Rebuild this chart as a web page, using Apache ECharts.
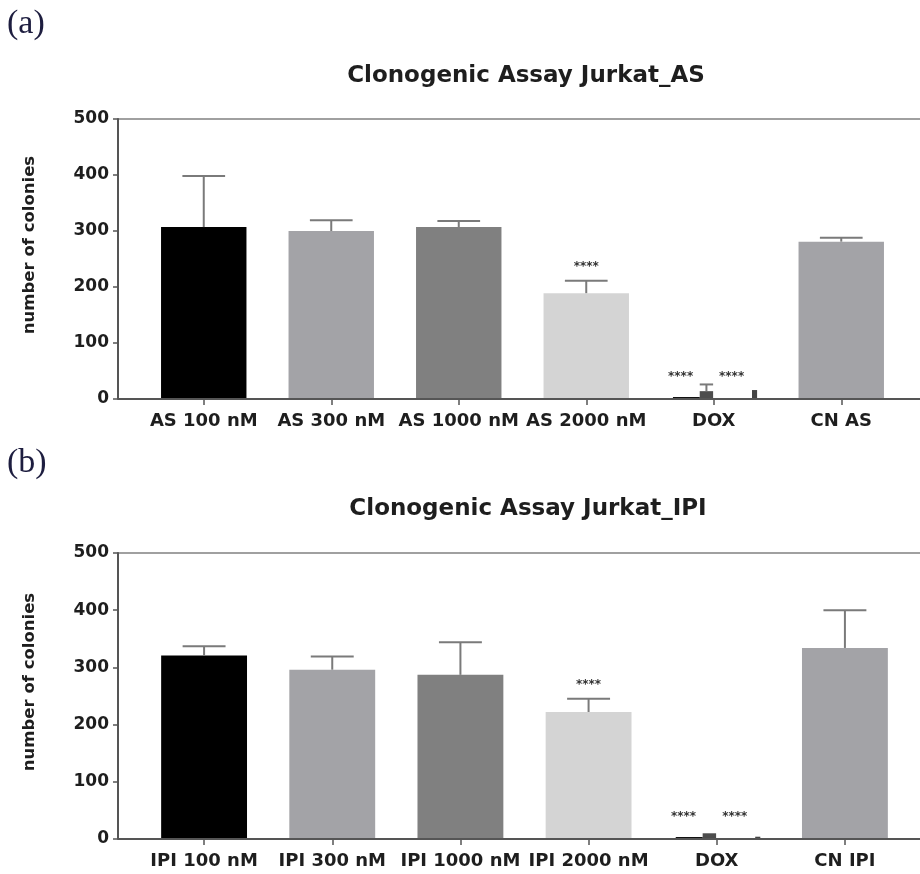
<!DOCTYPE html>
<html><head><meta charset="utf-8">
<script src="https://cdn.jsdelivr.net/npm/echarts@6/dist/echarts.min.js"></script>
<style>html,body{margin:0;padding:0;background:#fff}#c{width:920px;height:874px}</style>
</head><body><div id="c"></div>
<script>
// ---- data (panel a) ----
const titleA = 'Clonogenic Assay Jurkat_AS';
const catsA = ['AS 100 nM', 'AS 300 nM', 'AS 1000 nM', 'AS 2000 nM', 'DOX', 'CN AS'];
const meanA = [307, 300, 307, 189, 14, 281];
const errA = [91, 19, 11, 22, 12, 7];
const sigA = ['', '', '', '****', '', ''];
const doxSidesA = [1, 16];
const doxStarsA = ['****', '****'];

// ---- data (panel b) ----
const titleB = 'Clonogenic Assay Jurkat_IPI';
const catsB = ['IPI 100 nM', 'IPI 300 nM', 'IPI 1000 nM', 'IPI 2000 nM', 'DOX', 'CN IPI'];
const meanB = [321, 296, 287, 222, 10, 334];
const errB = [16, 23, 57, 23, 0, 66];
const sigB = ['', '', '', '****', '', ''];
const doxSidesB = [1, 4];
const doxStarsB = ['****', '****'];

const yTicks = [0, 100, 200, 300, 400, 500];
const yName = 'number of colonies';

// ---- styles ----
const barColors = ['#000000', '#a3a3a7', '#808080', '#d4d4d4', '#4d4d4d', '#a3a3a7'];
const FONT = 'DejaVu Sans';
const DOX = 4;

function makeRender(sigs, sides, stars) {
  return function (params, api) {
    const i = api.value(0), v = api.value(1), e = api.value(2);
    const band = api.size([1, 0])[0];
    const base = api.coord([i, 0]);
    const top = api.coord([i, v]);
    const cx = base[0];
    const ch = [];
    let barL, barW;
    if (i === DOX) { barW = band * 0.105; barL = cx - band * 0.11; }
    else { barW = band * 0.67; barL = cx - barW / 2; }
    ch.push({ type: 'rect', shape: { x: barL, y: top[1], width: barW, height: base[1] - top[1] },
      style: { fill: barColors[i] } });
    const ex = barL + barW / 2;
    let capY = top[1];
    if (e > 0) {
      const pe = api.coord([i, v + e]);
      capY = pe[1];
      const capW = i === DOX ? barW : barW / 2;
      ch.push({ type: 'line', shape: { x1: ex, y1: top[1], x2: ex, y2: pe[1] },
        style: { stroke: '#7a7a7a', lineWidth: 2 } });
      ch.push({ type: 'line', shape: { x1: ex - capW / 2, y1: pe[1], x2: ex + capW / 2, y2: pe[1] },
        style: { stroke: '#7a7a7a', lineWidth: 2 } });
    }
    if (sigs[i]) {
      ch.push({ type: 'text', style: { text: sigs[i], x: ex, y: capY - 14, align: 'center',
        verticalAlign: 'middle', font: 'bold 12px ' + FONT, fill: '#333' } });
    }
    if (i === DOX) {
      const l = api.coord([i, sides[0]]);
      ch.push({ type: 'rect', shape: { x: cx - band * 0.32, y: Math.min(l[1], base[1] - 2),
        width: band * 0.21, height: Math.max(base[1] - l[1], 2) }, style: { fill: '#111' } });
      const r = api.coord([i, sides[1]]);
      ch.push({ type: 'rect', shape: { x: cx + band * 0.30, y: Math.min(r[1], base[1] - 2),
        width: band * 0.04, height: Math.max(base[1] - r[1], 2) }, style: { fill: '#444' } });
      ch.push({ type: 'text', style: { text: stars[0], x: cx - band * 0.26, y: base[1] - 22,
        align: 'center', verticalAlign: 'middle', font: 'bold 12px ' + FONT, fill: '#333' } });
      ch.push({ type: 'text', style: { text: stars[1], x: cx + band * 0.14, y: base[1] - 22,
        align: 'center', verticalAlign: 'middle', font: 'bold 12px ' + FONT, fill: '#333' } });
    }
    return { type: 'group', children: ch };
  };
}

const grids = [
  { left: 140, right: 15, top: 119, height: 280 },
  { left: 140, right: 11, top: 553, height: 286 }
];

function yAxisFor(g) {
  return {
    gridIndex: g, type: 'value', min: yTicks[0], max: yTicks[yTicks.length - 1],
    interval: yTicks[1] - yTicks[0], offset: 22,
    axisLine: { show: true, lineStyle: { color: '#555', width: 2 } },
    axisTick: { show: true, length: 5, lineStyle: { color: '#555', width: 1.5 } },
    axisLabel: { margin: 9, color: '#1e1e1e', fontFamily: FONT, fontWeight: 'bold', fontSize: 17 },
    splitLine: { show: false },
    name: yName, nameLocation: 'middle', nameGap: 80,
    nameTextStyle: { color: '#1e1e1e', fontFamily: FONT, fontWeight: 'bold', fontSize: 16.5,
      padding: [0, 0, 0, 28] }
  };
}
function xAxisFor(g, cats) {
  return {
    gridIndex: g, type: 'category', data: cats,
    axisLine: { show: false },
    axisTick: { show: true, alignWithLabel: true, length: 6, lineStyle: { color: '#555', width: 1.5 } },
    axisLabel: { interval: 0, margin: 13, color: '#1e1e1e', fontFamily: FONT, fontWeight: 'bold', fontSize: 18 }
  };
}

function lines(top, bottom) {
  return [
    { type: 'line', shape: { x1: 118, y1: top, x2: 920, y2: top }, style: { stroke: '#a0a0a0', lineWidth: 2 }, z: 0 },
    { type: 'line', shape: { x1: 118, y1: bottom, x2: 920, y2: bottom }, style: { stroke: '#555', lineWidth: 2 }, z: 100 }
  ];
}

const chart = echarts.init(document.getElementById('c'), null, { renderer: 'canvas' });
chart.setOption({
  backgroundColor: '#ffffff',
  animation: false,
  title: [
    { text: titleA, left: 521, top: 60, textAlign: 'center',
      textStyle: { color: '#1e1e1e', fontFamily: FONT, fontWeight: 'bold', fontSize: 23 } },
    { text: titleB, left: 523, top: 493, textAlign: 'center',
      textStyle: { color: '#1e1e1e', fontFamily: FONT, fontWeight: 'bold', fontSize: 23 } }
  ],
  grid: grids,
  xAxis: [xAxisFor(0, catsA), xAxisFor(1, catsB)],
  yAxis: [yAxisFor(0), yAxisFor(1)],
  graphic: [
    { type: 'text', left: 7, top: 7, style: { text: '(a)', font: '34px "Liberation Serif"', fill: '#1d1d3f' } },
    { type: 'text', left: 7, top: 446, style: { text: '(b)', font: '34px "Liberation Serif"', fill: '#1d1d3f' } },
    ...lines(119, 399),
    ...lines(553, 839)
  ],
  series: [
    { type: 'custom', xAxisIndex: 0, yAxisIndex: 0, renderItem: makeRender(sigA, doxSidesA, doxStarsA),
      encode: { x: 0, y: 1 }, data: catsA.map((c, i) => [i, meanA[i], errA[i]]), clip: false },
    { type: 'custom', xAxisIndex: 1, yAxisIndex: 1, renderItem: makeRender(sigB, doxSidesB, doxStarsB),
      encode: { x: 0, y: 1 }, data: catsB.map((c, i) => [i, meanB[i], errB[i]]), clip: false }
  ]
});
</script>
</body></html>
